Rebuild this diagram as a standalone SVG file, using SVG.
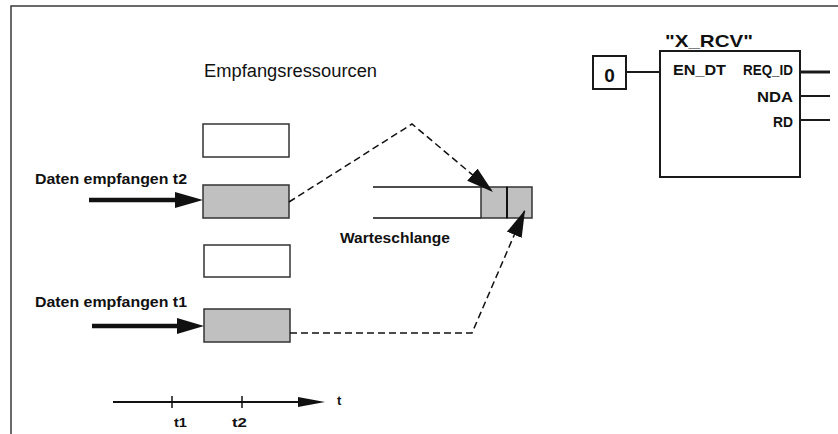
<svg xmlns="http://www.w3.org/2000/svg" width="838" height="434" viewBox="0 0 838 434">
  <style>
    .frame { fill: none; stroke: #3a3a3a; stroke-width: 1.5; }
    .box { fill: #ffffff; stroke: #333333; stroke-width: 1.5; }
    .full { fill: #c0c0c0; stroke: #333333; stroke-width: 1.5; }
    .fb { fill: #ffffff; stroke: #1a1a1a; stroke-width: 2; }
    .wire { stroke: #1a1a1a; stroke-width: 2; fill: none; }
    .dash { stroke: #111111; stroke-width: 1.5; fill: none; stroke-dasharray: 7 4; }
    .thick { stroke: #111111; stroke-width: 4.5; fill: none; }
    .thin { stroke: #111111; stroke-width: 2; fill: none; }
    .head { fill: #111111; }
    .lbl { font-family: "Liberation Sans", Arial, sans-serif; font-weight: bold; font-size: 14px; fill: #111111; }
    .title { font-family: "Liberation Sans", Arial, sans-serif; font-size: 18px; fill: #111111; }
  </style>
  <defs>
    <marker id="tri" markerUnits="userSpaceOnUse" markerWidth="28" markerHeight="18" refX="27" refY="8" orient="auto">
      <path d="M0,0 L27,8 L0,16 Z" fill="#111111"/>
    </marker>
  </defs>

  <!-- outer frame (open to the right and bottom) -->
  <path class="frame" d="M11,434 V6 H838"/>

  <text class="title" x="204" y="77" textLength="173" lengthAdjust="spacingAndGlyphs">Empfangsressourcen</text>

  <!-- receive resources -->
  <g id="res-free-1"><rect class="box" x="203" y="124" width="86" height="33"/></g>
  <g id="res-t2"><rect class="full" x="203" y="185" width="86" height="33"/></g>
  <g id="res-free-2"><rect class="box" x="204" y="245" width="86" height="32"/></g>
  <g id="res-t1"><rect class="full" x="204" y="309" width="86" height="33"/></g>

  <!-- inputs -->
  <g id="in-t2">
    <text class="lbl" x="35" y="184" textLength="152" lengthAdjust="spacingAndGlyphs">Daten empfangen t2</text>
  </g>
  <g id="in-t1">
    <text class="lbl" x="35" y="307" textLength="152" lengthAdjust="spacingAndGlyphs">Daten empfangen t1</text>
  </g>

  <!-- queue -->
  <g id="queue">
    <line class="thin" x1="373" y1="187" x2="481" y2="187" style="stroke-width:1.5"/>
    <line class="thin" x1="373" y1="218" x2="481" y2="218" style="stroke-width:1.5"/>
    <rect class="full" x="481" y="187" width="26" height="31"/>
    <rect class="full" x="507" y="187" width="25" height="31"/>
    <line class="thin" x1="507" y1="187" x2="507" y2="218"/>
    <text class="lbl" x="340" y="243" textLength="110" lengthAdjust="spacingAndGlyphs">Warteschlange</text>
  </g>

  <!-- function block X_RCV -->
  <g id="const-0">
    <rect class="fb" x="593" y="56" width="33" height="33"/>
    <text class="lbl" x="609.5" y="82" text-anchor="middle" style="font-size:19px">0</text>
  </g>
  <g id="x-rcv">
    <text class="lbl" x="665" y="47" textLength="88" lengthAdjust="spacingAndGlyphs" style="font-size:17px">"X_RCV"</text>
    <rect class="fb" x="660" y="51" width="140" height="126"/>
    <text class="lbl" x="673" y="75" textLength="53" lengthAdjust="spacingAndGlyphs">EN_DT</text>
    <text class="lbl" x="743" y="75" textLength="50" lengthAdjust="spacingAndGlyphs">REQ_ID</text>
    <text class="lbl" x="757" y="102" textLength="36" lengthAdjust="spacingAndGlyphs">NDA</text>
    <text class="lbl" x="773" y="127" textLength="20" lengthAdjust="spacingAndGlyphs">RD</text>
  </g>

  <!-- time axis -->
  <g id="time-axis">
    <line class="thin" x1="113" y1="402" x2="300" y2="402"/>
    <polygon class="head" points="298,397 325,402 298,407"/>
    <line class="thin" x1="172" y1="396" x2="172" y2="408" style="stroke-width:1.5"/>
    <line class="thin" x1="242" y1="396" x2="242" y2="408" style="stroke-width:1.5"/>
    <text class="lbl" x="174" y="427" textLength="13" lengthAdjust="spacingAndGlyphs" style="font-size:13px">t1</text>
    <text class="lbl" x="232" y="427" textLength="15" lengthAdjust="spacingAndGlyphs" style="font-size:13px">t2</text>
    <text class="lbl" x="337" y="405" style="font-size:13px">t</text>
  </g>

  <!-- connectors -->
  <g id="connectors">
    <line class="thick" x1="89" y1="200" x2="178" y2="200"/>
    <polygon class="head" points="175,192 203,200 175,208"/>
    <line class="thick" x1="92" y1="326" x2="180" y2="326"/>
    <polygon class="head" points="177,318 204,326 177,334"/>

    <polyline class="dash" points="289,202 412,124 493,192" marker-end="url(#tri)"/>
    <polyline class="dash" points="290,333 472,333 525,210" marker-end="url(#tri)"/>

    <line class="wire" x1="626" y1="72" x2="660" y2="72"/>
    <line class="wire" x1="800" y1="72" x2="830" y2="72" style="stroke-width:3"/>
    <line class="wire" x1="800" y1="96" x2="830" y2="96"/>
    <line class="wire" x1="800" y1="120" x2="830" y2="120"/>
  </g>
</svg>
